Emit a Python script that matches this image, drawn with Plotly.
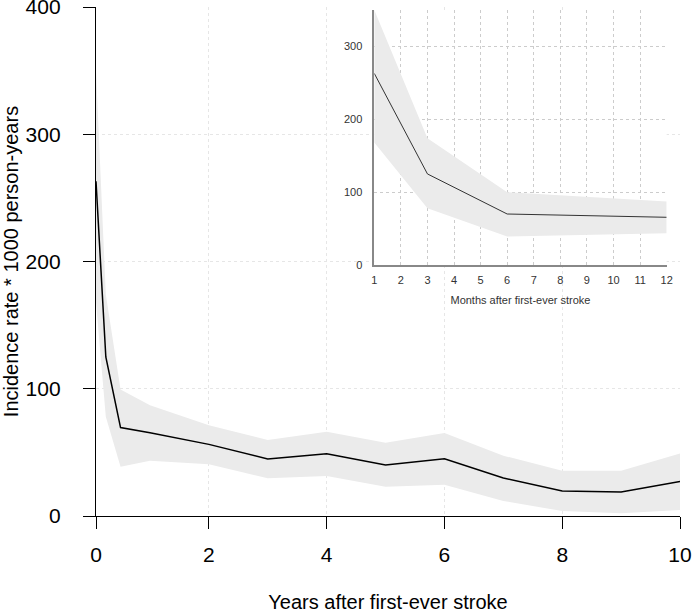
import plotly.graph_objects as go

# ---- main panel data (years after first-ever stroke) ----
years = [1/12, 3/12, 6/12, 1, 2, 3, 4, 5, 6, 7, 8, 9, 10]
rate = [263, 125, 69.5, 65.5, 56.3, 44.8, 49, 40, 45, 29.9, 19.6, 18.9, 27.2]
rate_hi = [350, 174, 99.5, 87, 71.3, 59.7, 66.3, 57.6, 65.2, 47.4, 35.6, 35.6, 49.2]
rate_lo = [168, 78, 38.8, 43.5, 40.6, 29.6, 31.4, 23, 24.6, 11.8, 3.9, 2.1, 4.7]
x_tickvals = [1/12, 2, 4, 6, 8, 10]
x_ticktext = ["0", "2", "4", "6", "8", "10"]
y_tickvals = [0, 100, 200, 300, 400]

# ---- inset data (months after first-ever stroke) ----
months = [1, 3, 6, 12]
m_rate = [263, 125, 70, 65.5]
m_hi = [350, 174, 100, 87]
m_lo = [168, 78, 39, 43.5]
m_tickvals = list(range(1, 13))
m_ytickvals = [0, 100, 200, 300]

BAND = "#ebebeb"
FONT = "Liberation Sans, Arial, sans-serif"

fig = go.Figure()

# main band
fig.add_trace(go.Scatter(x=years, y=rate_lo, mode="lines", line=dict(width=0),
                         showlegend=False, hoverinfo="skip", xaxis="x", yaxis="y"))
fig.add_trace(go.Scatter(x=years, y=rate_hi, mode="lines", line=dict(width=0),
                         fill="tonexty", fillcolor=BAND, showlegend=False,
                         hoverinfo="skip", xaxis="x", yaxis="y"))
fig.add_trace(go.Scatter(x=years, y=rate, mode="lines", line=dict(color="black", width=1.5),
                         showlegend=False, xaxis="x", yaxis="y"))

# inset band
fig.add_trace(go.Scatter(x=months, y=m_lo, mode="lines", line=dict(width=0),
                         showlegend=False, hoverinfo="skip", xaxis="x2", yaxis="y2"))
fig.add_trace(go.Scatter(x=months, y=m_hi, mode="lines", line=dict(width=0),
                         fill="tonexty", fillcolor=BAND, showlegend=False,
                         hoverinfo="skip", xaxis="x2", yaxis="y2"))
fig.add_trace(go.Scatter(x=months, y=m_rate, mode="lines", line=dict(color="#333333", width=1),
                         showlegend=False, xaxis="x2", yaxis="y2"))

# white background behind inset (covers main gridlines)
fig.add_shape(type="rect", xref="x2 domain", yref="y2 domain",
              x0=-0.134, x1=1.035, y0=-0.196, y1=1.004,
              fillcolor="white", line=dict(width=0), layer="below")

grid_main = dict(showgrid=True, gridcolor="#e6e6e6", gridwidth=1, griddash="dot")

fig.update_layout(
    template="none",
    width=692, height=613,
    margin=dict(l=96, r=12, t=7, b=97, autoexpand=False),
    paper_bgcolor="white", plot_bgcolor="white",
    font=dict(family=FONT, color="black"),
    xaxis=dict(
        domain=[0, 1], range=[1/12, 10], tickvals=x_tickvals, ticktext=x_ticktext,
        automargin=False,
        showline=True, linecolor="black", linewidth=1.3, zeroline=False,
        ticks="outside", ticklen=12, tickwidth=1.3, tickcolor="black",
        tickfont=dict(size=21, family=FONT), ticklabelstandoff=8, ticklabeloverflow="allow",
        title=dict(text="Years after first-ever stroke", font=dict(size=20, family=FONT), standoff=29),
        **grid_main,
    ),
    yaxis=dict(
        domain=[0, 1], range=[0, 400], tickvals=y_tickvals,
        automargin=False,
        showline=True, linecolor="black", linewidth=1.3, zeroline=False,
        ticks="outside", ticklen=12, tickwidth=1.3, tickcolor="black",
        tickfont=dict(size=21, family=FONT), ticklabelstandoff=18, ticklabeloverflow="allow",
        title=dict(text="Incidence rate * 1000 person-years", font=dict(size=20, family=FONT), standoff=1),
        **grid_main,
    ),
    xaxis2=dict(
        domain=[0.4765, 0.9772], anchor="y2", range=[1, 12], tickvals=m_tickvals,
        automargin=False,
        showline=True, linecolor="#888888", linewidth=1.5, zeroline=False, ticks="",
        tickfont=dict(size=11, family=FONT, color="#333333"), ticklabelstandoff=4,
        title=dict(text="Months after first-ever stroke", font=dict(size=11, family=FONT, color="#333333"), standoff=11),
        showgrid=True, gridcolor="#cccccc", gridwidth=1, griddash="dot",
    ),
    yaxis2=dict(
        domain=[0.4931, 0.9941], anchor="x2", range=[0, 350], tickvals=m_ytickvals,
        automargin=False,
        showline=True, linecolor="#888888", linewidth=1.5, zeroline=False, ticks="",
        tickfont=dict(size=11, family=FONT, color="#333333"), ticklabelstandoff=8,
        showgrid=True, gridcolor="#cccccc", gridwidth=1, griddash="dot",
    ),
)

fig.write_html("out.html", post_script="document.body.style.margin='0';",
               config={"displayModeBar": False})
